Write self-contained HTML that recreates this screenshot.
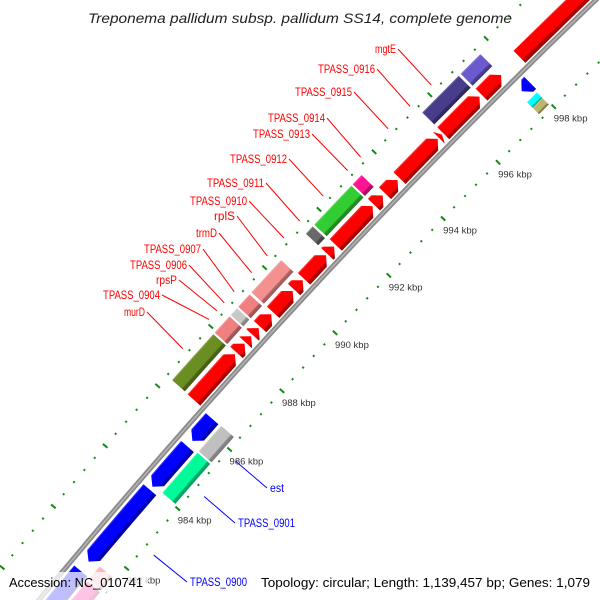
<!DOCTYPE html>
<html><head><meta charset="utf-8"><style>
html,body{margin:0;padding:0;background:#fff;width:600px;height:600px;overflow:hidden;}
svg{display:block;font-family:"Liberation Sans",sans-serif;}
</style></head><body>
<svg id="map" width="600" height="600" viewBox="0 0 600 600" xmlns="http://www.w3.org/2000/svg">
<defs id="defs"></defs>
<g id="ticks"></g>
<g id="backbone"></g>
<g id="feats"></g>
<g id="labels"></g>
<text x="88" y="23" font-size="14" font-style="italic" fill="#222" textLength="424" lengthAdjust="spacingAndGlyphs">Treponema pallidum subsp. pallidum SS14, complete genome</text>
<rect x="3" y="572" width="145" height="28" fill="#fff" fill-opacity="0.75"/>
<rect x="257" y="572" width="337" height="28" fill="#fff" fill-opacity="0.75"/>
<text x="9" y="587" font-size="13" fill="#000" textLength="134" lengthAdjust="spacingAndGlyphs">Accession: NC_010741</text>
<text x="261" y="587" font-size="13" fill="#000" textLength="329" lengthAdjust="spacingAndGlyphs">Topology: circular; Length: 1,139,457 bp; Genes: 1,079</text>
</svg>
<script>
// ---- data (kbp) ----
const featStart = [986.34,987.95,988.29,988.55,988.83,989.32,990.10,990.47,991.33,991.64,993.04,993.44,993.97,995.39,995.55,996.92,998.27,
  986.35,987.95,988.55,988.83,989.32,991.33,991.64,993.04,995.55,996.92,
  977.0,981.51,984.00,985.54,997.70,
  977.0,981.15,984.05,985.45,997.60,997.60];
const featEnd = [987.89,988.25,988.50,988.78,989.25,990.05,990.42,991.28,991.58,992.99,993.36,993.90,995.35,995.50,996.85,997.62,1004,
  987.90,988.50,988.78,989.25,990.42,991.58,992.99,993.36,996.85,997.62,
  981.20,983.90,985.35,986.29,998.00,
  981.10,981.60,985.40,986.31,997.95,997.95];
const featTrack = ['red','red','red','red','red','red','red','red','red','red','red','red','red','red','red','red','red',
  'outer','outer','outer','outer','outer','outer','outer','outer','outer','outer',
  'blue','blue','blue','blue','blue',
  'inner','inner','inner','inner','innerHi','innerLo'];
const featColor = ['#ff0000','#ff0000','#ff0000','#ff0000','#ff0000','#ff0000','#ff0000','#ff0000','#ff0000','#ff0000','#ff0000','#ff0000','#ff0000','#ff0000','#ff0000','#ff0000','#ff0000',
  '#6b8e23','#f08080','#c8c8c8','#f08080','#f49090','#696969','#32cd32','#ff1493','#483d8b','#6a5acd',
  '#0000ff','#0000ff','#0000ff','#0000ff','#0000ff',
  '#ff1493','#ffb6c1','#00fa9a','#c0c0c0','#00ffff','#bdb76b'];
const featStrand = [1,1,1,1,1,1,1,1,1,1,1,1,1,1,1,1,1, 0,0,0,0,0,0,0,0,0,0, -1,-1,-1,-1,-1, 0,0,0,0,0,0];
const majorTicks = [980,982,984,986,988,990,992,994,996,998,1000];
const tickLabels = ['980 kbp','982 kbp','984 kbp','986 kbp','988 kbp','990 kbp','992 kbp','994 kbp','996 kbp','998 kbp','1000 kbp'];
const labelText = ['murD','TPASS_0904','rpsP','TPASS_0906','TPASS_0907','trmD','rplS','TPASS_0910','TPASS_0911','TPASS_0912','TPASS_0913','TPASS_0914','TPASS_0915','TPASS_0916','mgtE','est','TPASS_0901','TPASS_0900'];
const labelFeat = [0,1,2,3,4,5,6,7,8,9,10,11,12,13,14,35,29,28];
// ---- geometry ----
const CX=5570, CY=5175, RT=7131, GENOME=1139.457;
const TH0=Math.atan2(508-CY,177-CX);
const TRACKS={inner:[5,22],innerHi:[14,22],innerLo:[5,14],blue:[25,42],red:[51,68],outer:[72,89]};
const NS='http://www.w3.org/2000/svg';
function pt(k,d){const th=TH0+(k-984)/GENOME*2*Math.PI;const r=RT+d;return [CX+r*Math.cos(th),CY+r*Math.sin(th)];}
function arc(s,e,d){const n=Math.max(2,Math.ceil(Math.abs(e-s)*2)+1);const a=[];for(let i=0;i<n;i++)a.push(pt(s+(e-s)*i/(n-1),d));return a;}
function shade(hex,f){const n=parseInt(hex.slice(1),16);let r=n>>16,g=(n>>8)&255,b=n&255;
  if(f<1){r*=f;g*=f;b*=f;}else{r=r+(255-r)*(f-1);g=g+(255-g)*(f-1);b=b+(255-b)*(f-1);}
  return 'rgb('+Math.round(r)+','+Math.round(g)+','+Math.round(b)+')';}
const defs=document.getElementById('defs');
const gT=document.getElementById('ticks'),gB=document.getElementById('backbone'),gF=document.getElementById('feats'),gL=document.getElementById('labels');
function mk(tag,attrs,parent){const el=document.createElementNS(NS,tag);for(const k in attrs)el.setAttribute(k,attrs[k]);parent.appendChild(el);return el;}
// ticks
[0,96].forEach(function(ring){
  for(let i=0;i<=65;i++){const k=978+i*0.4;const major=Math.abs(k/2-Math.round(k/2))<0.01;
    const hl=major?3:1;const a=pt(k,ring-hl),b=pt(k,ring+hl);
    const ln=mk('line',{x1:a[0],y1:a[1],x2:b[0],y2:b[1],stroke:'#138a13','stroke-width':2},gT);
    
    
  }
});
majorTicks.forEach(function(k,i){const p=pt(k,0);
  const t=mk('text',{x:p[0],y:p[1]+15,'font-size':9.5,fill:'#333'},gT);t.textContent=tickLabels[i];
  
  
});
// backbone
const bb=arc(975,1006,47).map(p=>p[0].toFixed(1)+','+p[1].toFixed(1)).join(' ');
let bl=mk('polyline',{points:bb,fill:'none',stroke:'#8a8a8a','stroke-width':5},gB);


bl=mk('polyline',{points:bb,fill:'none',stroke:'#b4b4b4','stroke-width':1.5},gB);


// features
for(let i=0;i<featStart.length;i++){
  const s=featStart[i],e=featEnd[i],tr=TRACKS[featTrack[i]],lo=tr[0],hi=tr[1],mid=(lo+hi)/2,st=featStrand[i];
  const head=Math.min(0.2,e-s);let P=[];
  if(st===1){const b=e-head;P=arc(s,b,lo).concat([pt(e,mid)]).concat(arc(s,b,hi).reverse());}
  else if(st===-1){const b=s+head;P=[pt(s,mid)].concat(arc(b,e,lo)).concat(arc(b,e,hi).reverse());}
  else{P=arc(s,e,lo).concat(arc(s,e,hi).reverse());}
  const km=Math.min(Math.max((s+e)/2,978),1002);const a=pt(km,lo),b=pt(km,hi);
  const gid='g'+i;const gr=mk('linearGradient',{id:gid,gradientUnits:'userSpaceOnUse',x1:a[0],y1:a[1],x2:b[0],y2:b[1]},defs);
  const c=featColor[i];
  mk('stop',{offset:0,'stop-color':shade(c,0.62)},gr);mk('stop',{offset:0.2,'stop-color':shade(c,0.72)},gr);
  mk('stop',{offset:0.25,'stop-color':c},gr);mk('stop',{offset:0.9,'stop-color':c},gr);mk('stop',{offset:1,'stop-color':shade(c,1.25)},gr);
  const poly=mk('polygon',{points:P.map(p=>p[0].toFixed(1)+','+p[1].toFixed(1)).join(' '),fill:'url(#'+gid+')'},gF);
  
  
}
// labels
const labelX=[145,160,177,187,201,217,235,247,264,287,310,325,352,375,396,270,238,190];
const labelY=[316,299,284,269,253,237,220,205,187,163,138,122,96,73,53,492,527,586];
for(let i=0;i<labelText.length;i++){
  const fi=labelFeat[i];const km=(featStart[fi]+featEnd[fi])/2;const blue=i>=15;
  const end=blue?pt(km,-12):pt(km,102);
  const sx=blue?labelX[i]-3:labelX[i]+2, sy=labelY[i]-4;
  const ln=mk('line',{x1:sx,y1:sy,x2:end[0],y2:end[1],stroke:blue?'#0000ff':'#ff0000','stroke-width':1},gL);
  
  
  const w=labelText[i].length>5?57:(labelText[i].length===3?14:labelText[i].length===4?21:24);
  const t=mk('text',{x:labelX[i],y:labelY[i],'font-size':11.5,fill:blue?'#0000ff':'#ff0000','text-anchor':blue?'start':'end',textLength:w,lengthAdjust:'spacingAndGlyphs'},gL);
  t.textContent=labelText[i];
  
  
}
</script>
</body></html>
